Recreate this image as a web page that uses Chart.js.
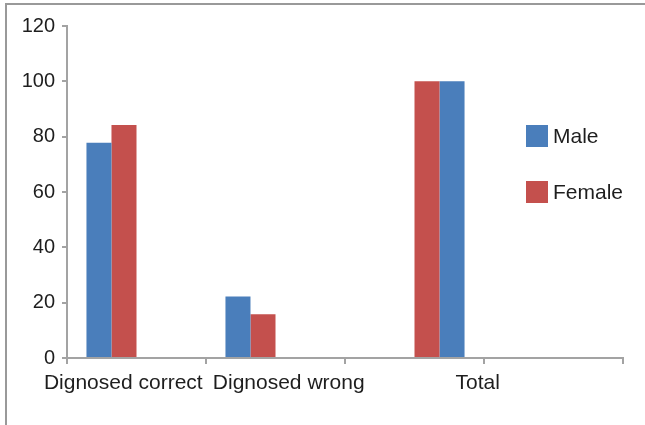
<!DOCTYPE html>
<html>
<head>
<meta charset="utf-8">
<script src="https://cdn.jsdelivr.net/npm/chart.js@4/dist/chart.umd.min.js"></script>
<style>
  html, body { margin: 0; padding: 0; background: #fff; overflow: hidden; }
  #wrap { position: relative; width: 645px; height: 425px; }
  #frame { position: absolute; left: 5px; top: 3px; width: 700px; height: 500px;
           border-top: 2px solid #999; border-left: 2px solid #999; }
  canvas { position: absolute; left: 0; top: 0; }
</style>
</head>
<body>
<div id="wrap">
  <div id="frame"></div>
  <canvas id="chart" width="645" height="425"></canvas>
</div>
<script>
// categories (last slot is an empty category, as in the original)
const categories = ['Dignosed correct', 'Dignosed wrong', 'Total', ''];
const maleValues = [77.8, 22.2, null, null];
const femaleValues = [84.2, 15.8, null, null];
// the Total group is drawn female first, then male
const totalFemale = [null, null, 100, null];
const totalMale = [null, null, 100, null];
const yTicks = [0, 20, 40, 60, 80, 100, 120];

const BLUE = '#4a7ebb';
const RED = '#c4504d';
const AXIS = '#a3a3a3';
const TEXT = '#1e1e1e';
const FONT = '"Liberation Sans", Arial, sans-serif';

// x labels are not centred on their categories in the original, shift them
const labelShift = [-0.095, 0.095, 0.455, 0];

const xLabelsPlugin = {
  id: 'xLabels',
  afterDraw(chart) {
    const scale = chart.scales.x;
    const ctx = chart.ctx;
    const step = scale.getPixelForTick(1) - scale.getPixelForTick(0);
    ctx.save();
    ctx.font = '21px ' + FONT;
    ctx.fillStyle = TEXT;
    ctx.textAlign = 'center';
    ctx.textBaseline = 'middle';
    categories.forEach((label, i) => {
      if (!label) return;
      const x = scale.getPixelForTick(i) + labelShift[i] * step;
      ctx.fillText(label, x, scale.top + 25);
    });
    ctx.restore();
  }
};

const legendPlugin = {
  id: 'sideLegend',
  afterDraw(chart) {
    const ctx = chart.ctx;
    const area = chart.chartArea;
    const x = area.right - 97;
    let y = area.top + 99;
    ctx.save();
    ctx.font = '21px ' + FONT;
    ctx.textBaseline = 'middle';
    chart.data.datasets.slice(0, 2).forEach(ds => {
      ctx.fillStyle = ds.backgroundColor;
      ctx.fillRect(x, y, 22, 22);
      ctx.fillStyle = TEXT;
      ctx.fillText(ds.label, x + 27, y + 12);
      y += 56;
    });
    ctx.restore();
  }
};

new Chart(document.getElementById('chart'), {
  type: 'bar',
  data: {
    labels: categories,
    datasets: [
      { label: 'Male', data: maleValues, backgroundColor: BLUE },
      { label: 'Female', data: femaleValues, backgroundColor: RED },
      { label: 'Female', data: totalFemale, backgroundColor: RED },
      { label: 'Male', data: totalMale, backgroundColor: BLUE }
    ]
  },
  options: {
    responsive: false,
    animation: false,
    layout: { padding: { top: 26, right: 22, bottom: 0, left: 0 } },
    datasets: { bar: { categoryPercentage: 0.72, barPercentage: 1.0 } },
    plugins: { legend: { display: false }, tooltip: { enabled: false } },
    scales: {
      x: {
        offset: true,
        grid: { offset: true, drawOnChartArea: false, drawTicks: true, tickLength: 6, color: AXIS, lineWidth: 2 },
        border: { color: AXIS, width: 2 },
        ticks: { display: false },
        afterFit(scale) { scale.height = 67; }
      },
      y: {
        min: 0,
        max: 120,
        afterBuildTicks(scale) { scale.ticks = yTicks.map(v => ({ value: v })); },
        grid: { drawOnChartArea: false, drawTicks: true, tickLength: 5, color: AXIS, lineWidth: 2 },
        border: { color: AXIS, width: 2 },
        ticks: { color: TEXT, padding: 7, font: { family: FONT, size: 20 } },
        afterFit(scale) { scale.width = 67; }
      }
    }
  },
  plugins: [xLabelsPlugin, legendPlugin]
});
</script>
</body>
</html>
